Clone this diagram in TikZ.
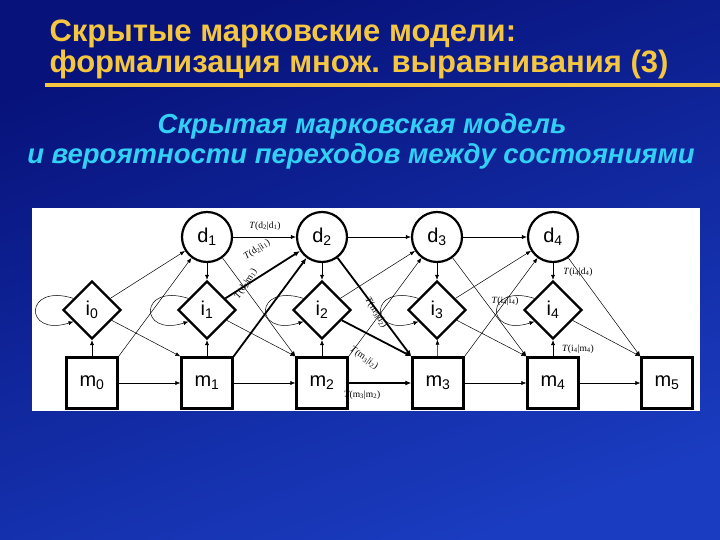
\documentclass[tikz,border=0pt]{standalone}
\usepackage{fontspec}
\setmainfont{Liberation Sans}
\newfontfamily\serifT{Liberation Serif}
\usetikzlibrary{shapes.geometric,arrows.meta}
\definecolor{ttl}{HTML}{F5C640}
\definecolor{sub}{HTML}{33D0F5}
\definecolor{bgA}{HTML}{07127A}
\definecolor{bgB}{HTML}{1A3CC0}
\begin{document}
\begin{tikzpicture}[x=1pt,y=-1pt,
  dn/.style={circle,draw,line width=2.2pt,minimum size=50pt,inner sep=0pt,font=\fontsize{20}{20}\selectfont},
  ins/.style={diamond,draw,line width=2.2pt,minimum width=58pt,minimum height=58pt,inner sep=0pt,font=\fontsize{20}{20}\selectfont},
  mn/.style={rectangle,draw,line width=2.2pt,minimum size=51pt,inner sep=0pt,font=\fontsize{20}{20}\selectfont},
  tn/.style={-{Latex[length=5pt,width=4pt]},line width=0.5pt},
  bn/.style={-{Latex[length=6pt,width=5pt]},line width=1.8pt},
  lb/.style={font=\serifT\fontsize{9.5}{9.5}\selectfont,inner sep=0.3pt}]
\shade[top color=bgA,bottom color=bgB,shading angle=20] (0,0) rectangle (720,540);
\node[anchor=base west,text=ttl,font=\bfseries\fontsize{31}{31}\selectfont] (t1) at (46,42) {Скрытые марковские модели:};
\node[anchor=base west,text=ttl,font=\bfseries\fontsize{31}{31}\selectfont] (t2) at (46,73) {формализация множ. выравнивания (3)};
\fill[ttl] (45,83) rectangle (720,87);
\node[anchor=base,text=sub,font=\bfseries\itshape\fontsize{27.5}{27.5}\selectfont] (s1) at (362,134) {Скрытая марковская модель};
\node[anchor=base,text=sub,font=\bfseries\itshape\fontsize{27.5}{27.5}\selectfont] (s2) at (361,164) {и вероятности переходов между состояниями};
\fill[white] (32,208) rectangle (700,411);
\foreach \k/\x in {1/207,2/322,3/437,4/553} \node[dn] (d\k) at (\x,237) {d\textsubscript{\k}};
\foreach \k/\x in {0/92,1/207,2/322,3/437,4/553} \node[ins] (i\k) at (\x,310) {i\textsubscript{\k}};
\foreach \k/\x in {0/92,1/207,2/322,3/438,4/553,5/667} \node[mn] (m\k) at (\x,383) {m\textsubscript{\k}};
\foreach \k in {0,...,4} \draw[tn] (i\k.148) .. controls +(-50,-16) and +(-50,16) .. (i\k.212);
\foreach \k in {0,...,4} \draw[tn] (m\k) -- (i\k);
\foreach \k in {1,...,4} \draw[tn] (d\k) -- (i\k);
\foreach \k/\n in {0/1,1/2,3/4,4/5} \draw[tn] (m\k) -- (m\n);
\draw[bn] (m2) -- (m3);
\foreach \k/\n in {1/2,2/3,3/4} \draw[tn] (d\k) -- (d\n);
\foreach \k/\n in {0/1,1/2,3/4,4/5} \draw[tn] (i\k) -- (m\n.north west);
\draw[bn] (i2) -- (m3.north west);
\foreach \k/\n in {1/2,3/4,4/5} \draw[tn] (d\k) -- (m\n.north west);
\draw[bn] (d2) -- (m3.north west);
\foreach \k/\n in {0/1,2/3,3/4} \draw[tn] (m\k.north east) -- (d\n);
\draw[bn] (m1.north east) -- (d2);
\foreach \k/\n in {0/1,2/3,3/4} \draw[tn] (i\k) -- (d\n);
\draw[bn] (i1) -- (d2);
\node[lb] (l1) at (265,226) {\textit{T}(d\textsubscript{2}|d\textsubscript{1})};
\node[lb,rotate=33] (l2) at (257,250) {\textit{T}(d\textsubscript{2}|i\textsubscript{1})};
\node[lb,rotate=58] (l3) at (246,284) {\textit{T}(d\textsubscript{2}|m\textsubscript{1})};
\node[lb,rotate=-58] (l4) at (376,313) {\textit{T}(m\textsubscript{3}|d\textsubscript{2})};
\node[lb,rotate=-35] (l5) at (364,358) {\textit{T}(m\textsubscript{3}|i\textsubscript{2})};
\node[lb] (l6) at (362,395) {\textit{T}(m\textsubscript{3}|m\textsubscript{2})};
\node[lb] (l7) at (578,272) {\textit{T}(i\textsubscript{4}|d\textsubscript{4})};
\node[lb] (l8) at (505,301) {\textit{T}(i\textsubscript{4}|i\textsubscript{4})};
\node[lb] (l9) at (578,349) {\textit{T}(i\textsubscript{4}|m\textsubscript{4})};
\end{tikzpicture}
\end{document}
